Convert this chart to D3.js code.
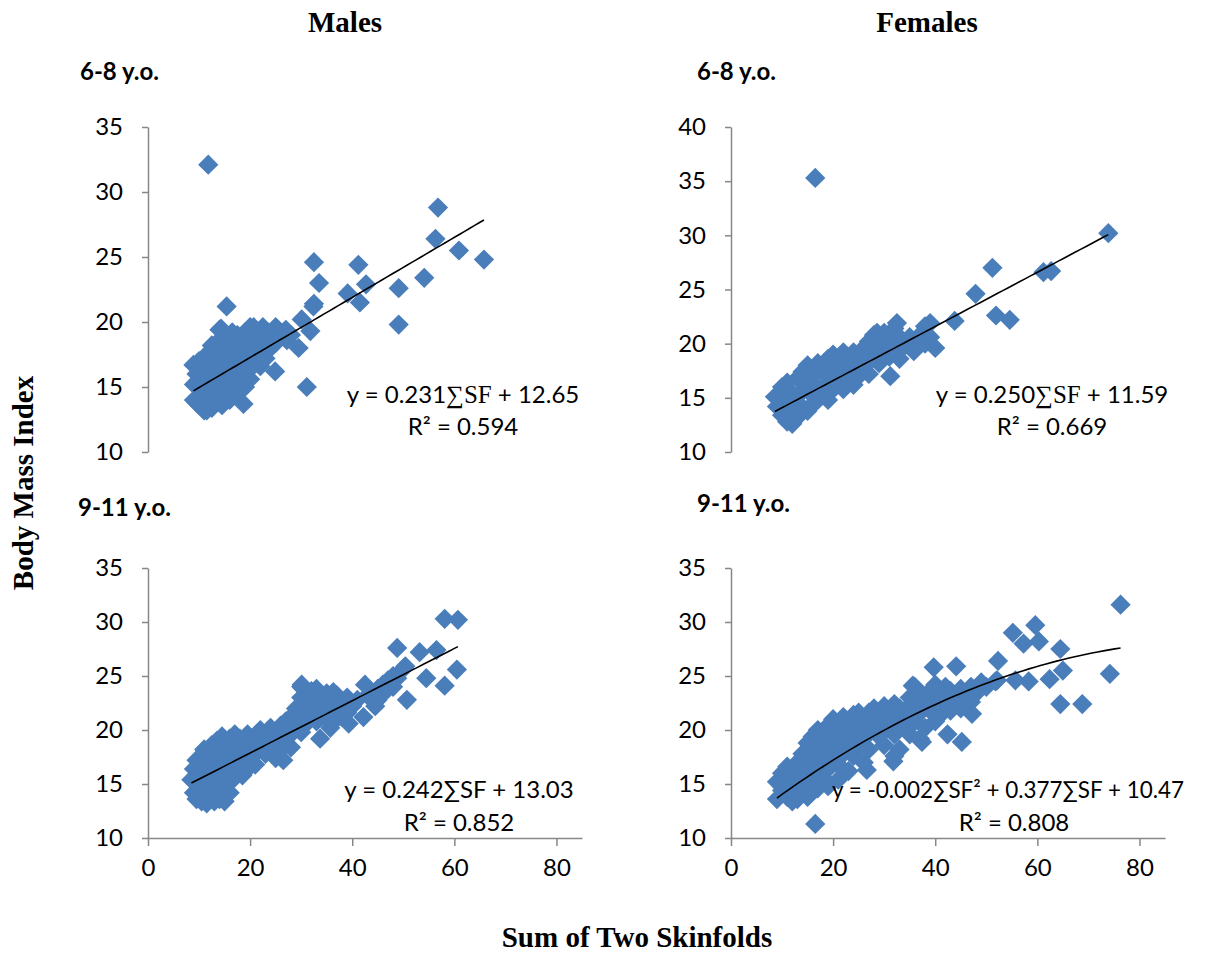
<!DOCTYPE html>
<html>
<head>
<meta charset="utf-8">
<script src="https://cdn.jsdelivr.net/npm/d3@7"></script>
<style>
  html, body { margin: 0; padding: 0; background: #fff; }
  svg { display: block; }
</style>
</head>
<body>
<svg id="chart" width="1205" height="955"></svg>
<script>
// ---------------- DATA ----------------
const xTicks = [0, 20, 40, 60, 80];
const yTicksA = [10, 15, 20, 25, 30, 35];
const yTicksB = [10, 15, 20, 25, 30, 35, 40];

// Males 6-8 y.o. : [sum of skinfolds, BMI]
const males68 = [
  [11.8,32.1],[56.8,28.8],[56.3,26.4],[60.9,25.5],[65.8,24.8],[54.1,23.4],[49.1,22.6],[49.1,19.8],
  [32.5,24.6],[33.5,23.0],[41.2,24.4],[42.7,22.9],[39.1,22.2],[41.5,21.5],[32.5,21.4],[32.4,21.2],
  [30.1,20.2],[31.8,19.3],[29.5,18.0],[31.1,15.0],[24.9,16.2],[15.4,21.2],[14.3,19.5],[20.7,19.6],
  [25.2,19.5],[27.2,18.6],[18.7,13.7],[11.5,13.2],[8.9,16.7],
  [9,14.0],[9,15.2],[9.5,13.8],[9.5,16.0],[10,15.0],[10,17.0],[10,14.2],[10.5,16.2],[10.5,13.5],
  [11,15.6],[11,17.3],[11,14.6],[11,13.2],[11.5,16.8],[11.5,13.8],[12,15.0],[12,17.6],[12,14.2],
  [12.5,16.2],[12.5,18.2],[12.5,13.4],[13,15.4],[13,17.0],[13,14.6],[13.5,16.6],[13.5,18.4],[13.5,13.8],
  [14,15.8],[14,17.6],[14,19.4],[14,14.4],[14.5,16.8],[14.5,13.6],[15,15.2],[15,18.0],[15,19.0],[15,14.2],
  [15.5,16.4],[15.5,17.4],[16,15.6],[16,18.6],[16,14.0],[16.5,17.0],[16.5,16.0],[16.5,19.2],
  [17,15.0],[17,18.2],[17,14.4],[17.5,16.6],[17.5,17.6],[17.5,19.0],[18,15.4],[18,18.8],[18,14.8],
  [18.5,16.8],[18.5,17.8],[19,16.0],[19,19.2],[19,15.0],[19.5,17.4],[19.5,18.4],[20,16.4],[20,19.6],
  [20,15.6],[20.5,17.8],[20.5,18.8],[21,16.8],[21,19.4],[21.5,18.2],[21.5,17.4],[22,19.0],[22,16.6],
  [22.5,18.0],[22.5,19.6],[23,17.2],[23,18.6],[23.5,19.2],[24,18.0],[24.5,19.0],[25,18.4],[25,19.6],
  [26,18.8],[26,19.2],[27,19.4],[28,19.0]
];

// Females 6-8 y.o.
const females68 = [
  [16.5,35.3],[73.9,30.2],[51.2,27.0],[61.2,26.6],[62.7,26.7],[47.9,24.6],[51.9,22.6],[54.6,22.2],
  [43.8,22.1],[39.0,21.9],[32.5,21.9],[40.0,19.6],[31.2,17.0],[35.1,20.0],[35.8,19.3],[28.6,21.0],
  [37.6,20.3],[8.6,15.1],
  [9,15.0],[9,14.2],[10,16.0],[10,13.4],[10,15.2],[11,14.4],[11,12.8],[11,16.4],[12,15.4],[12,13.6],
  [12,12.6],[13,16.8],[13,14.6],[13,13.2],[14,15.6],[14,17.4],[14,14.0],[15,16.4],[15,13.8],[15,18.0],
  [16,15.2],[16,17.0],[16,14.4],[17,16.0],[17,18.2],[17,14.8],[18,17.4],[18,15.4],[19,16.4],[19,18.6],
  [19,14.8],[20,17.6],[20,15.8],[20,19.0],[21,16.6],[21,18.2],[22,17.8],[22,15.8],[22,19.2],[23,16.8],
  [23,18.6],[24,17.6],[24,19.2],[24,16.2],[25,18.4],[25,17.0],[26,19.6],[26,17.8],[27,18.6],[27,20.2],
  [27,17.2],[28,19.4],[28,20.8],[29,18.2],[29,20.0],[30,19.6],[30,21.0],[31,18.8],[31,20.4],[32,21.4],
  [32,19.6],[33,20.6],[33,18.6],[34,19.8],[35,20.6],[36,19.6],[37,20.8],[38,21.6],[38,20.0],[39,20.6]
];

// Males 9-11 y.o.
const males911 = [
  [58.1,30.3],[60.7,30.2],[48.8,27.6],[53.2,27.2],[56.5,27.4],[60.5,25.6],[54.5,24.8],[58.1,24.1],
  [50.7,22.8],[50.1,25.7],[48.8,24.8],[42.5,24.2],[44.5,22.2],[30.1,24.2],[36.3,23.5],[33.7,19.2],
  [26.5,17.2],[39.3,20.6],[42.2,21.2],[35.7,20.2],[50.4,25.9],
  [8.5,15.4],[9,14.2],[9,16.4],[9.5,13.6],[9.5,15.4],[9.5,17.2],[10,14.6],[10,16.2],[10.5,13.4],
  [10.5,17.6],[10.5,15.6],[11,14.4],[11,16.8],[11,18.2],[11.5,13.2],[11.5,15.4],[12,17.4],[12,14.2],
  [12,16.2],[12.5,18.6],[12.5,15.0],[13,13.4],[13,16.8],[13,17.8],[13.5,15.6],[13.5,19.0],[13.5,14.4],
  [14,17.0],[14,13.6],[14,18.4],[14.5,16.0],[14.5,19.4],[14.5,14.8],[15,17.6],[15,13.4],[15,18.8],
  [15.5,16.4],[15.5,15.0],[16,19.2],[16,17.8],[16,14.2],[16.5,16.8],[16.5,18.4],[17,15.6],[17,19.6],
  [17.5,17.4],[17.5,18.6],[18,16.2],[18,19.2],[18.5,17.8],[18.5,15.8],[19,18.8],[19,17.0],[19.5,19.6],
  [19.5,16.4],[20,18.2],[20,17.4],[21,19.0],[21,17.8],[21,16.8],[22,18.4],[22,20.0],[23,19.4],[23,17.8],
  [24,18.8],[24,20.2],[25,19.6],[25,18.2],[25,17.4],[26,20.4],[26,19.0],[27,18.6],[27,20.8],[28,19.6],
  [28,21.2],[28,18.4],[29,20.4],[29,22.0],[30,23.0],[30,21.2],[30,19.8],[30,24.0],[31,22.2],[31,23.4],
  [31,20.6],[32,21.6],[32,23.6],[32,22.6],[33,20.8],[33,22.2],[33,23.8],[34,21.6],[34,22.8],[35,22.0],
  [35,21.0],[35,23.4],[36,22.6],[36,20.6],[37,21.8],[37,23.2],[38,22.4],[38,21.2],[39,23.0],[39,21.6],
  [40,22.2],[41,22.8],[43,23.2],[45,22.8],[45,23.8],[46,23.4],[46,24.2],[47,24.6],[47,23.8],[48,24.0],
  [48,25.0]
];

// Females 9-11 y.o.
const females911 = [
  [76.3,31.6],[74.2,25.2],[59.6,29.7],[55.2,29.0],[57.3,28.0],[60.3,28.2],[64.5,27.5],[65.0,25.5],
  [62.4,24.7],[58.3,24.5],[55.7,24.6],[64.5,22.4],[68.8,22.4],[52.3,26.4],[52.1,24.6],[39.7,25.8],
  [44.1,25.9],[51.8,24.5],[47.2,21.5],[45.2,18.9],[42.4,19.6],[37.4,18.9],[31.8,17.1],[16.5,11.3],
  [35.6,24.1],[26.6,16.3],
  [9,15.2],[9,13.6],[10,14.4],[10,16.0],[11,15.4],[11,13.8],[11,16.6],[12,14.6],[12,16.2],[12,13.4],
  [13,17.0],[13,15.2],[13,13.6],[14,16.0],[14,14.2],[14,17.8],[15,18.8],[15,16.8],[15,15.0],[15,13.8],
  [16,17.6],[16,19.4],[16,15.8],[17,18.4],[17,16.6],[17,14.6],[17,20.0],[18,19.2],[18,17.4],[18,15.6],
  [19,20.4],[19,18.2],[19,16.4],[19,14.8],[20,19.4],[20,17.6],[20,21.0],[21,18.6],[21,20.2],[21,16.8],
  [21,15.4],[22,19.8],[22,17.8],[22,21.2],[23,18.8],[23,20.6],[23,16.2],[24,19.6],[24,21.4],[24,17.6],
  [25,20.4],[25,18.4],[25,21.6],[26,19.2],[26,20.8],[26,17.0],[27,21.6],[27,19.8],[27,18.2],[28,20.6],
  [28,22.0],[29,21.2],[29,19.4],[30,20.0],[30,22.2],[30,18.6],[31,21.6],[31,20.6],[32,22.4],[32,19.6],
  [32,17.6],[33,21.0],[33,18.2],[33,22.0],[34,20.4],[34,21.8],[35,23.0],[35,21.2],[35,19.6],[36,22.4],
  [36,24.0],[36,20.8],[37,23.4],[37,21.6],[37,19.2],[38,22.6],[38,20.2],[39,23.6],[39,21.8],[40,22.8],
  [40,20.8],[40,24.2],[41,23.2],[41,21.4],[42,22.4],[42,24.0],[43,21.8],[43,23.6],[44,22.8],[45,23.8],
  [45,22.0],[46,23.2],[47,24.0],[47,22.6],[48,23.4],[49,24.4],[50,24.0]
];

// fitted trendline coefficients [a2, a1, a0]
const fitM68 = [0, 0.231, 12.65];
const fitF68 = [0, 0.250, 11.59];
const fitM911 = [0, 0.242, 13.03];
const fitF911 = [-0.002, 0.377, 10.47];

const colTitles = ["Males", "Females"];
const rowTitles = ["6-8 y.o.", "9-11 y.o."];

// ---------------- DRAW ----------------
const svg = d3.select("#chart");
const tickFont = "Lato, 'DejaVu Sans', sans-serif";
const serif = "'Liberation Serif', 'Times New Roman', serif";
const axisColor = "#878787";
const markColor = "#4A7EBB";
const fs = 24;

const panels = [
  { data: males68, fit: fitM68, x0: 148, yTop: 127, yBot: 452, yDom: [10, 35], yTicks: yTicksA, xAxis: false,
    eq: [{ t: ["y = 0.231", "∑SF", " + 12.65"], serifMid: true }, { t: ["R² = 0.594"] }], eqX: 463, eqY: [403, 435],
    age: rowTitles[0], ageX: 80, ageY: 80 },
  { data: females68, fit: fitF68, x0: 731, yTop: 127, yBot: 452, yDom: [10, 40], yTicks: yTicksB, xAxis: false,
    eq: [{ t: ["y = 0.250", "∑SF", " + 11.59"], serifMid: true }, { t: ["R² = 0.669"] }], eqX: 1052, eqY: [403, 435],
    age: rowTitles[0], ageX: 697, ageY: 80 },
  { data: males911, fit: fitM911, x0: 148, yTop: 568, yBot: 838, yDom: [10, 35], yTicks: yTicksA, xAxis: true,
    eq: [{ t: ["y = 0.242∑SF + 13.03"] }, { t: ["R² = 0.852"] }], eqX: 459, eqY: [798, 831],
    age: rowTitles[1], ageX: 78, ageY: 516 },
  { data: females911, fit: fitF911, x0: 731, yTop: 568, yBot: 838, yDom: [10, 35], yTicks: yTicksA, xAxis: true,
    eq: [{ t: ["y = -0.002∑SF² + 0.377∑SF + 10.47"], anchorStart: 832, len: 352 }, { t: ["R² = 0.808"] }], eqX: 1014, eqY: [798, 831],
    age: rowTitles[1], ageX: 697, ageY: 512 }
];

const xWidth = 434; // px for domain [0,85]

panels.forEach(p => {
  const x = d3.scaleLinear().domain([0, 85]).range([p.x0, p.x0 + xWidth]);
  const y = d3.scaleLinear().domain(p.yDom).range([p.yBot, p.yTop]);
  const g = svg.append("g");

  // y axis
  const ya = g.append("g").attr("transform", `translate(${p.x0},0)`)
    .call(d3.axisLeft(y).tickValues(p.yTicks).tickSize(6).tickSizeOuter(0).tickPadding(19));
  ya.selectAll("path, line").attr("stroke", axisColor).attr("stroke-width", 1.5);
  ya.selectAll("text").attr("font-family", tickFont).attr("font-size", fs).attr("fill", "#000");

  if (p.xAxis) {
    const xa = g.append("g").attr("transform", `translate(0,${p.yBot})`)
      .call(d3.axisBottom(x).tickValues(xTicks).tickSize(8).tickSizeOuter(0).tickPadding(13));
    xa.selectAll("path, line").attr("stroke", axisColor).attr("stroke-width", 1.5);
    xa.selectAll("text").attr("font-family", tickFont).attr("font-size", fs).attr("fill", "#000");
  }

  // markers
  const sym = d3.symbol().type(d3.symbolSquare).size(205);
  g.append("g").selectAll("path").data(p.data).join("path")
    .attr("d", sym)
    .attr("transform", d => `translate(${x(d[0])},${y(d[1])}) rotate(45)`)
    .attr("fill", markColor);

  // trendline
  const ext = d3.extent(p.data, d => d[0]);
  const f = v => p.fit[0] * v * v + p.fit[1] * v + p.fit[2];
  const pts = d3.range(0, 61).map(i => ext[0] + (ext[1] - ext[0]) * i / 60);
  g.append("path")
    .attr("d", d3.line().x(v => x(v)).y(v => y(f(v)))(pts))
    .attr("fill", "none").attr("stroke", "#000").attr("stroke-width", 1.6);

  // equation
  p.eq.forEach((line, i) => {
    const t = g.append("text")
      .attr("y", p.eqY[i])
      .attr("font-family", tickFont).attr("font-size", fs).attr("fill", "#000");
    if (i === 0 && line.anchorStart) {
      t.attr("x", line.anchorStart).attr("text-anchor", "start")
        .attr("font-size", 23)
        .attr("textLength", line.len).attr("lengthAdjust", "spacingAndGlyphs");
    } else {
      t.attr("x", p.eqX).attr("text-anchor", "middle");
    }
    line.t.forEach((s, j) => {
      const ts = t.append("tspan").text(s);
      if (line.serifMid && j === 1) ts.attr("font-family", serif).attr("font-size", 25);
    });
  });

  // age label
  g.append("text").attr("x", p.ageX).attr("y", p.ageY)
    .attr("font-family", tickFont).attr("font-weight", "bold").attr("font-size", 24)
    .attr("fill", "#000").text(p.age);
});

// column titles
svg.append("text").attr("x", 345).attr("y", 32).attr("text-anchor", "middle")
  .attr("font-family", serif).attr("font-weight", "bold").attr("font-size", 29).text(colTitles[0]);
svg.append("text").attr("x", 927).attr("y", 32).attr("text-anchor", "middle")
  .attr("font-family", serif).attr("font-weight", "bold").attr("font-size", 29).text(colTitles[1]);

// axis titles
svg.append("text").attr("transform", "translate(33,483) rotate(-90)").attr("text-anchor", "middle")
  .attr("font-family", serif).attr("font-weight", "bold").attr("font-size", 29).text("Body Mass Index");
svg.append("text").attr("x", 637).attr("y", 947).attr("text-anchor", "middle")
  .attr("font-family", serif).attr("font-weight", "bold").attr("font-size", 29).text("Sum of Two Skinfolds");
</script>
</body>
</html>
